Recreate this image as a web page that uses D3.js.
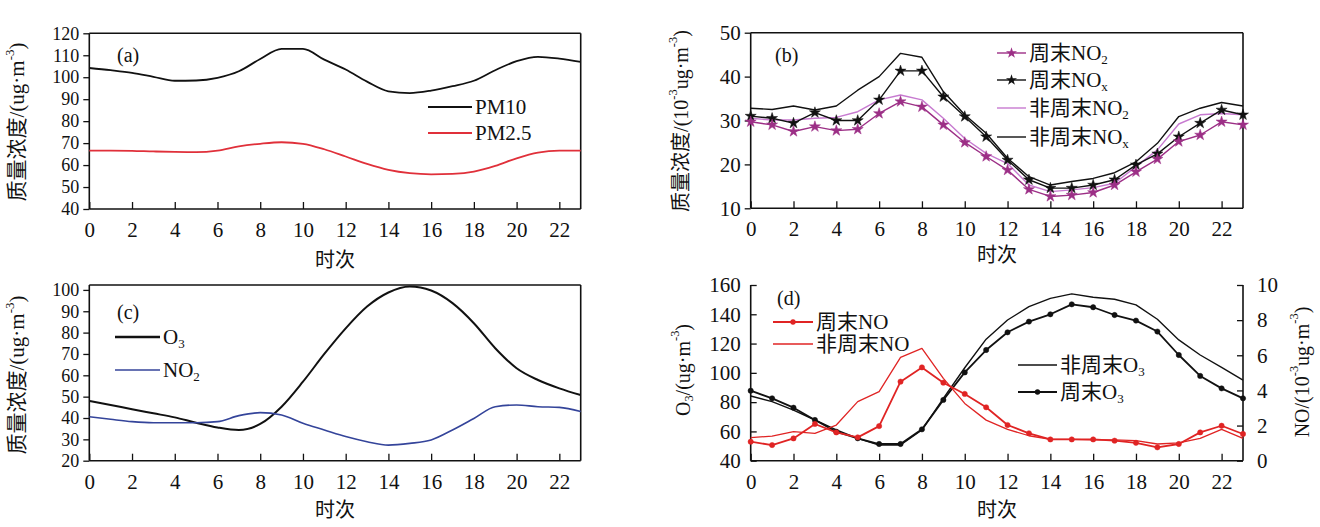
<!DOCTYPE html>
<html><head><meta charset="utf-8">
<script src="https://cdn.jsdelivr.net/npm/d3@7"></script>
<style>
body{margin:0;background:#fff}
svg text{font-family:'Liberation Serif','Noto Sans CJK SC',serif;fill:#111}
</style>
</head><body>
<svg id="c" width="1320" height="527"></svg>
<script>
// ---------- data ----------
const hours = [0,1,2,3,4,5,6,7,8,9,10,11,12,13,14,15,16,17,18,19,20,21,22,23];
const xTickValues = [0,2,4,6,8,10,12,14,16,18,20,22];

// (a)
const pm10 = [104.2,103.2,102,100.2,98.4,98.5,99.7,102.7,108.3,112.9,112.9,108,103.5,98,93.6,92.8,93.9,95.9,98.4,103.2,107.3,109.3,108.5,107];
const pm25 = [66.6,66.6,66.5,66.2,66,65.9,66.6,68.5,69.7,70.4,69.7,67.2,63.9,60.5,57.8,56.3,55.8,56,57,59.6,63.1,65.7,66.6,66.6];
const ticksA = [40,50,60,70,80,90,100,110,120];

// (b)
const wkNO2 = [29.7,29,27.5,28.6,27.7,28,31.6,34.3,33.1,29,25,21.8,18.7,14.3,12.7,13,13.6,15.3,18.3,21.2,25.2,26.7,29.7,29];
const wkNOx = [31,30.5,29.4,31.8,30,30,34.7,41.3,41.3,35.4,30.9,26.3,21,16.5,14.6,14.6,15.3,16.5,19.9,22.4,26.3,29.4,32.4,31.3];
const nwNO2 = [30.5,30.1,30.1,30.5,30.7,32,34.7,35.8,34.7,30.5,25.9,22.5,20.2,15.3,13.8,14.2,14.7,15.7,19.5,23.3,29.2,31.3,31.6,31.3];
const nwNOx = [32.8,32.5,33.3,32.4,33.3,36.9,40,45.3,44.4,36.6,31.3,27.1,21.4,17.2,15.3,16.1,16.8,18.1,20.6,24.8,30.9,32.8,34.1,33.3];
const ticksB = [10,20,30,40,50];

// (c)
const o3 = [48,46.1,44.1,42.2,40.3,37.8,35.6,34.4,37.2,45.3,57,70,82,92.2,98.8,101.6,99.7,93.8,84.4,72.7,63.3,57.8,53.9,50.8];
const no2 = [40.6,39.4,38.3,37.8,37.8,37.8,38.3,41.1,42.5,41.4,37.5,34.4,31.3,28.9,27.3,28.1,29.7,34.4,39.8,45.3,46.1,45.3,45,43];
const ticksC = [20,30,40,50,60,70,80,90,100];

// (d)
const nwO3 = [84.2,80.3,74.6,67.8,61,55.3,50.7,50.7,61,82.6,103.5,123,136.1,145.2,150.9,153.9,151.6,150.3,146.4,136.6,122.5,112.2,103.8,95.1];
const wkO3 = [87.8,82.6,76.2,67.8,59.8,55.3,51.4,51.4,61.4,81.5,100.3,115.6,127.7,135,140,146.8,144.8,139.5,135.7,128.2,112.2,97.9,89.4,82.6];
const wkNO = [1.08,0.89,1.27,2.09,1.61,1.33,1.97,4.5,5.31,4.44,3.8,3.04,2.03,1.56,1.21,1.21,1.21,1.14,1.02,0.76,0.95,1.61,1.99,1.52];
const nwNO = [1.31,1.4,1.65,1.56,2.03,3.36,3.93,5.88,6.39,4.69,3.26,2.31,1.78,1.42,1.21,1.21,1.18,1.18,1.14,0.95,1.02,1.27,1.78,1.27];
const ticksDL = [40,60,80,100,120,140,160];
const ticksDR = [0,2,4,6,8,10];

// ---------- helpers ----------
const svg = d3.select('#c');
const FS = 21;

function rich(sel, parts, fs) {
  let shift = 0;
  parts.forEach(([t, k]) => {
    const ts = sel.append('tspan').text(t);
    let target = 0;
    if (k === 'sub') { ts.attr('font-size', fs*0.62); target = fs*0.3; }
    else if (k === 'sup') { ts.attr('font-size', fs*0.62); target = -fs*0.4; }
    else { ts.attr('font-size', fs); }
    ts.attr('dy', target - shift);
    shift = target;
  });
  return sel;
}

function panel(cfg) {
  const g = svg.append('g');
  const x = d3.scaleLinear([0,23],[cfg.x0,cfg.x1]);
  const y = d3.scaleLinear(cfg.yDomain,[cfg.yBot,cfg.yTop]);
  const xa = g.append('g').attr('transform',`translate(0,${cfg.yBot})`)
    .call(d3.axisBottom(x).tickValues(xTickValues).tickSize(-7).tickPadding(13));
  xa.select('.domain').remove();
  xa.selectAll('text').attr('font-size',FS).attr('font-family',"'Liberation Serif',serif");
  xa.selectAll('line').attr('stroke','#111').attr('stroke-width',1.3);
  const ya = g.append('g').attr('transform',`translate(${cfg.x0},0)`)
    .call(d3.axisLeft(y).tickValues(cfg.yTicks).tickSize(cfg.yTickIn ? -6 : 6).tickPadding(cfg.yTickIn ? 10 : 4));
  ya.select('.domain').remove();
  ya.selectAll('text').attr('font-size',cfg.yFS || FS).attr('font-family',"'Liberation Serif',serif");
  ya.selectAll('line').attr('stroke','#111').attr('stroke-width',1.3);
  const fr = g.append('g').attr('stroke','#111').attr('stroke-width',1.6).attr('fill','none');
  fr.append('line').attr('x1',cfg.x0).attr('x2',cfg.x1).attr('y1',cfg.yBot).attr('y2',cfg.yBot);
  fr.append('line').attr('x1',cfg.x0).attr('x2',cfg.x0).attr('y1',cfg.yTop).attr('y2',cfg.yBot);
  fr.append('line').attr('x1',cfg.x1).attr('x2',cfg.x1).attr('y1',cfg.yTop).attr('y2',cfg.yBot);
  if (cfg.box) fr.append('line').attr('x1',cfg.x0).attr('x2',cfg.x1).attr('y1',cfg.yTop).attr('y2',cfg.yTop);
  g.append('text').attr('x',cfg.xTitleX).attr('y',cfg.xTitleY).attr('text-anchor','middle')
    .attr('dominant-baseline','central').attr('font-size',20).text('时次');
  const yt = g.append('text').attr('transform',`translate(${cfg.yTitleX},${cfg.yTitleY}) rotate(-90)`)
    .attr('text-anchor','middle').attr('dominant-baseline','central');
  rich(yt, cfg.yTitle, cfg.yTitleFS || 20);
  g.append('text').attr('x',cfg.letterX).attr('y',cfg.letterY).attr('dominant-baseline','central')
    .attr('font-size',20).text(cfg.letter);
  return {g,x,y};
}

function drawLine(p, yScale, vals, color, width, curve) {
  const line = d3.line().x((d,i)=>p.x(hours[i])).y(d=>yScale(d)).curve(curve || d3.curveLinear);
  p.g.append('path').datum(vals).attr('d',line).attr('fill','none')
    .attr('stroke',color).attr('stroke-width',width).attr('stroke-linejoin','round');
}
function drawMarkers(p, yScale, vals, color, type, size) {
  const sym = d3.symbol().type(type).size(size);
  p.g.append('g').selectAll('path').data(vals).join('path')
    .attr('transform',(d,i)=>`translate(${p.x(hours[i])},${yScale(d)})`)
    .attr('d',sym).attr('fill',color).attr('stroke',color).attr('stroke-width',0.5);
}
function legendItem(g, x1, x2, yy, color, width, label, marker, msize) {
  g.append('line').attr('x1',x1).attr('x2',x2).attr('y1',yy).attr('y2',yy)
    .attr('stroke',color).attr('stroke-width',width);
  if (marker) {
    g.append('path').attr('transform',`translate(${(x1+x2)/2},${yy})`)
      .attr('d',d3.symbol().type(marker).size(msize)()).attr('fill',color);
  }
  const t = g.append('text').attr('x',x2+3).attr('y',yy).attr('dominant-baseline','central');
  rich(t, label, 21);
}

// ---------- panel (a) ----------
const pa = panel({x0:89.3,x1:580.7,yTop:33.3,yBot:209,yDomain:[40,120],yTicks:ticksA,box:true,yFS:18,
  xTitleX:335,xTitleY:260,yTitleX:17,yTitleY:122,letter:'(a)',letterX:117,letterY:55,yTitleFS:21,
  yTitle:[['质量浓度/(ug·m','n'],['-3','sup'],[')','n']]});
drawLine(pa, pa.y, pm10, '#111', 1.8, d3.curveMonotoneX);
drawLine(pa, pa.y, pm25, '#e0303a', 1.8, d3.curveMonotoneX);
legendItem(pa.g, 428, 472, 107, '#111', 1.8, [['PM10','n']]);
legendItem(pa.g, 428, 472, 133, '#e0303a', 1.8, [['PM2.5','n']]);

// ---------- panel (b) ----------
const pb = panel({x0:750.7,x1:1243,yTop:32.7,yBot:208.3,yDomain:[10,50],yTicks:ticksB,box:true,
  xTitleX:997,xTitleY:255,yTitleX:681,yTitleY:121,letter:'(b)',letterX:775,letterY:55,
  yTitle:[['质量浓度/(10','n'],['-3','sup'],['ug·m','n'],['-3','sup'],[')','n']]});
const cWkNO2 = '#9c2f86', cNwNO2 = '#c77ad0';
drawLine(pb, pb.y, nwNOx, '#111', 1.4);
drawLine(pb, pb.y, nwNO2, cNwNO2, 1.4);
drawLine(pb, pb.y, wkNOx, '#111', 1.4);
drawMarkers(pb, pb.y, wkNOx, '#111', d3.symbolStar, 38);
drawLine(pb, pb.y, wkNO2, cWkNO2, 1.4);
drawMarkers(pb, pb.y, wkNO2, cWkNO2, d3.symbolStar, 38);
legendItem(pb.g, 997, 1026, 53, cWkNO2, 1.4, [['周末NO','n'],['2','sub']], d3.symbolStar, 38);
legendItem(pb.g, 997, 1026, 80, '#111', 1.4, [['周末NO','n'],['x','sub']], d3.symbolStar, 38);
legendItem(pb.g, 997, 1026, 108, cNwNO2, 1.4, [['非周末NO','n'],['2','sub']]);
legendItem(pb.g, 997, 1026, 137, '#111', 1.4, [['非周末NO','n'],['x','sub']]);

// ---------- panel (c) ----------
const pc = panel({x0:89.3,x1:580.7,yTop:285,yBot:460.7,yDomain:[20,102.3],yTicks:ticksC,box:true,yFS:18,
  xTitleX:335,xTitleY:510,yTitleX:17,yTitleY:375,letter:'(c)',letterX:117,letterY:312,yTitleFS:21,
  yTitle:[['质量浓度/(ug·m','n'],['-3','sup'],[')','n']]});
drawLine(pc, pc.y, o3, '#111', 2, d3.curveMonotoneX);
drawLine(pc, pc.y, no2, '#34449a', 1.6, d3.curveMonotoneX);
legendItem(pc.g, 115, 160, 337, '#111', 2.4, [['O','n'],['3','sub']]);
legendItem(pc.g, 115, 160, 370, '#34449a', 1.6, [['NO','n'],['2','sub']]);

// ---------- panel (d) ----------
const pd = panel({x0:750.7,x1:1243,yTop:285,yBot:460.7,yDomain:[40,160],yTicks:ticksDL,box:false,yTickIn:true,
  xTitleX:997,xTitleY:510,yTitleX:683,yTitleY:370,letter:'(d)',letterX:777,letterY:298,
  yTitle:[['O','n'],['3','sub'],['/(ug·m','n'],['-3','sup'],[')','n']]});
const yR = d3.scaleLinear([0,10],[460.7,285]);
const ra = pd.g.append('g').attr('transform','translate(1243,0)')
  .call(d3.axisRight(yR).tickValues(ticksDR).tickSize(-6).tickPadding(14));
ra.select('.domain').remove();
ra.selectAll('text').attr('font-size',FS).attr('font-family',"'Liberation Serif',serif");
ra.selectAll('line').attr('stroke','#111').attr('stroke-width',1.3);
const rt = pd.g.append('text').attr('transform','translate(1302,372) rotate(-90)')
  .attr('text-anchor','middle').attr('dominant-baseline','central');
rich(rt, [['NO/(10','n'],['-3','sup'],['ug·m','n'],['-3','sup'],[')','n']], 20);
const cRed = '#e02424';
drawLine(pd, pd.y, nwO3, '#111', 1.4);
drawLine(pd, pd.y, wkO3, '#111', 1.8);
drawMarkers(pd, pd.y, wkO3, '#111', d3.symbolCircle, 22);
drawLine(pd, yR, nwNO, cRed, 1.3);
drawLine(pd, yR, wkNO, cRed, 1.8);
drawMarkers(pd, yR, wkNO, cRed, d3.symbolCircle, 22);
legendItem(pd.g, 773, 813, 322, cRed, 1.8, [['周末NO','n']], d3.symbolCircle, 22);
legendItem(pd.g, 773, 813, 344, cRed, 1.3, [['非周末NO','n']]);
legendItem(pd.g, 1018, 1057, 365, '#111', 1.4, [['非周末O','n'],['3','sub']]);
legendItem(pd.g, 1018, 1057, 392, '#111', 1.8, [['周末O','n'],['3','sub']], d3.symbolCircle, 22);
</script>
</body></html>
